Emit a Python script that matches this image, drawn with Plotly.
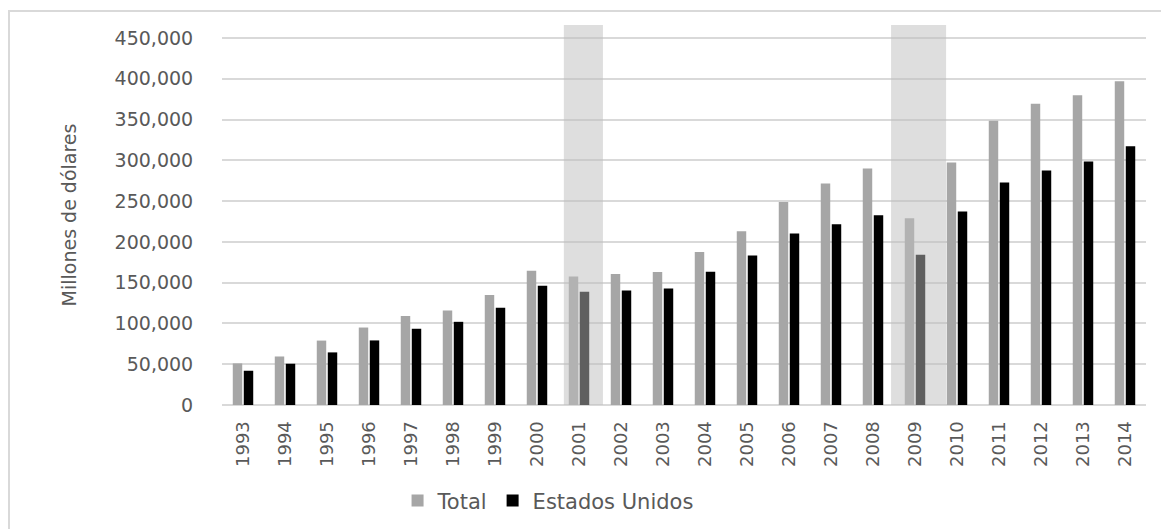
import plotly.graph_objects as go

years = [str(y) for y in range(1993, 2015)]
total = [51000, 59500, 79000, 95000, 109000, 116000, 135000, 164500,
         157500, 160500, 163000, 187500, 213000, 249000, 271500, 290000,
         229000, 297500, 348500, 369500, 380000, 397000]
estados_unidos = [42000, 50600, 64500, 79200, 93500, 102000, 119200, 146200,
                  139000, 140500, 143000, 163300, 183400, 210400, 221700, 232800,
                  184200, 237300, 272800, 287500, 298500, 317400]
recession_years = ["2001", "2009"]
recession_spans = [(-0.36, 0.57), (-0.57, 0.74)]
y_ticks = list(range(0, 450001, 50000))

tick_color = "#595959"
grid_color = "#d9d9d9"

fig = go.Figure()
fig.add_trace(go.Bar(x=years, y=total, name="Total",
                     marker=dict(color="#a6a6a6", line=dict(width=0))))
fig.add_trace(go.Bar(x=years, y=estados_unidos, name="Estados Unidos",
                     marker=dict(color="#000000", line=dict(width=0))))

shapes = []
for yr, (a, b) in zip(recession_years, recession_spans):
    i = years.index(yr)
    shapes.append(dict(type="rect", xref="x", yref="paper", x0=i + a, x1=i + b,
                       y0=0, y1=1, fillcolor="rgba(190,190,190,0.5)",
                       line=dict(width=0), layer="above"))
# outer chart border
shapes.append(dict(type="rect", xref="paper", yref="paper",
                   x0=(1 - 214) / 924, x1=1.2, y0=-1.0, y1=(397 - 3) / 380,
                   line=dict(color=grid_color, width=2), fillcolor="rgba(0,0,0,0)",
                   layer="below"))

fig.update_layout(
    width=1161, height=521,
    margin=dict(l=214, r=23, t=17, b=124, autoexpand=False),
    paper_bgcolor="white", plot_bgcolor="white",
    barmode="group", bargap=0.476, bargroupgap=0.14,
    shapes=shapes,
    showlegend=True,
    legend=dict(orientation="h", x=0.19, y=-0.252, xanchor="left", yanchor="middle",
                font=dict(family="DejaVu Sans", size=21, color=tick_color),
                itemwidth=30, traceorder="normal"),
    font=dict(family="DejaVu Sans", color=tick_color),
)
fig.update_xaxes(type="category", tickangle=-90, automargin=False,
                 tickfont=dict(family="DejaVu Sans", size=18, color=tick_color),
                 showgrid=False, showline=False,
                 ticks="outside", ticklen=8, tickcolor="rgba(0,0,0,0)")
fig.update_yaxes(range=[0, 466000], tickvals=y_ticks, automargin=False,
                 ticktext=[f"{v:,}" for v in y_ticks],
                 tickfont=dict(family="DejaVu Sans", size=19, color=tick_color),
                 showgrid=True, gridcolor=grid_color, gridwidth=2,
                 zeroline=True, zerolinecolor=grid_color, zerolinewidth=2,
                 ticks="outside", ticklen=24, tickcolor="rgba(0,0,0,0)",
                 title=dict(text="Millones de dólares",
                            font=dict(family="DejaVu Sans", size=19, color=tick_color),
                            standoff=32))

fig.write_html("out.html")
